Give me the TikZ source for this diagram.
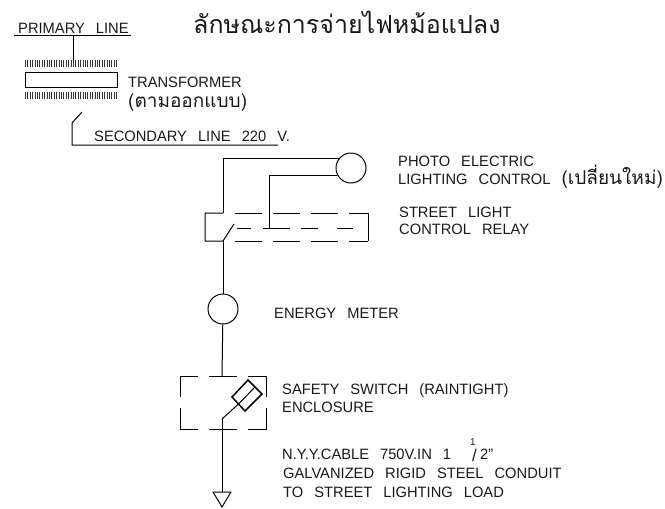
\documentclass[tikz,border=0pt]{standalone}
\usepackage{fontspec}
\setmainfont{Liberation Sans}[FakeStretch=0.98,WordSpace=2.7]
\newfontfamily\thaifont[Script=Thai]{Loma}
\tikzset{
 lbl/.style={inner sep=0pt,anchor=base west,font=\fontsize{15}{17}\selectfont,text=black!90},
 thailbl/.style={lbl,font=\fontsize{19}{21}\selectfont\thaifont},
 wire/.style={line width=1pt,black},
 hatch/.style={line width=7pt,black!80,dash pattern=on 1pt off 1.4pt},
 lamp/.style={circle,draw,line width=1pt,minimum size=30pt,inner sep=0pt}
}
\begin{document}
\begin{tikzpicture}[x=1pt,y=-1pt]
\useasboundingbox (0,0) rectangle (665,509);
% title
\node[lbl,font=\fontsize{25}{28}\selectfont\thaifont] (title) at (193,33) {ลักษณะการจ่ายไฟหม้อแปลง};
% primary
\node[lbl] (prim) at (18,33) {PRIMARY LINE};
\coordinate (pl) at (14,35); \coordinate (pr) at (131,35); \coordinate (pm) at (73,35);
\draw[wire] (pl) -- (pr);
\coordinate (h1a) at (25,63.5); \coordinate (h1b) at (117,63.5);
\coordinate (h2a) at (25,95.5); \coordinate (h2b) at (117,95.5);
\node[draw,line width=1pt,minimum width=92pt,minimum height=15pt,inner sep=0pt] (tr) at (71,79.5) {};
\coordinate (pd) at (73,60);
\draw[wire] (pm) -- (pd);
\draw[hatch] (h1a) -- (h1b);
\draw[hatch] (h2a) -- (h2b);
\node[lbl] (trt) at (128,87) {TRANSFORMER};
\node[thailbl] (trt2) at (128,107) {(ตามออกแบบ)};
% secondary
\node[lbl] (sec) at (94,141) {SECONDARY LINE 220 V.};
\coordinate (s1) at (82,112); \coordinate (s2) at (72,123); \coordinate (s3) at (72,145); \coordinate (s4) at (278,145);
\draw[wire] (s1) -- (s2) -- (s3) -- (s4);
% photo cell
\node[lamp] (photo) at (351,168) {};
\node[lbl] (pt1) at (398,166) {PHOTO ELECTRIC};
\node[lbl] (pt2) at (398,184) {LIGHTING CONTROL {\fontsize{19}{21}\selectfont\thaifont(เปลี่ยนใหม่)}};
\coordinate (a1) at (223,159); \coordinate (a2) at (223,213);
\coordinate (b1) at (269,175); \coordinate (b2) at (269,228);
\draw[wire] (photo.143) -- (photo.143 -| a1) -- (a2);
\draw[wire] (photo.208) -- (photo.208 -| b1) -- (b2);
% relay
\coordinate (rtl) at (205,213); \coordinate (rbl) at (205,241); \coordinate (rtr) at (368,213); \coordinate (rbr) at (368,241);
\coordinate (sw0) at (223,241); \coordinate (sw1) at (234,224);
\coordinate (rt0) at (235,213); \coordinate (rb0) at (235,241);
\coordinate (rm0) at (237,228); \coordinate (rm1) at (353,228);
\draw[wire] (a2) -- (rtl) -- (rbl) -- (sw0) -- (sw1);
\draw[wire,dash pattern=on 27pt off 11pt] (rt0) -- (rtr);
\draw[wire,dash pattern=on 27pt off 11pt] (rb0) -- (rbr);
\draw[wire] (rtr) -- (rbr);
\draw[wire,dash pattern=on 14pt off 12pt on 27pt off 11pt on 17pt off 19pt on 16pt off 100pt] (rm0) -- (rm1);
\node[lbl] (rt1) at (399,217) {STREET LIGHT};
\node[lbl] (rt2) at (399,234) {CONTROL RELAY};
% meter
\node[lamp] (meter) at (223,309) {};
\draw[wire] (sw0) -- (meter);
\node[lbl] (mt) at (274,318) {ENERGY METER};
% enclosure
\coordinate (et) at (222,376);
\draw[wire] (meter) -- (et);
\draw[wire] (180,397) -- (180,376) -- (198,376);
\draw[wire] (209,376) -- (237,376);
\draw[wire] (248,376) -- (266,376) -- (266,397);
\draw[wire] (180,408) -- (180,429) -- (198,429);
\draw[wire] (209,429) -- (237,429);
\draw[wire] (248,429) -- (266,429) -- (266,408);
% fuse switch
\coordinate (f0) at (222,419); \coordinate (f1) at (238.5,404);
\draw[wire] (f0) -- (f1);
\draw[line width=1.5pt] (248,380) -- (262,394) -- (245,411) -- (232,397) -- cycle;
\draw[wire] (255,387) -- (f1);
\node[lbl] (st1) at (282,394) {SAFETY SWITCH (RAINTIGHT)};
\node[lbl] (st2) at (282,412) {ENCLOSURE};
% cable
\coordinate (c1) at (222,492); \coordinate (c2) at (213,492); \coordinate (c3) at (231,492); \coordinate (c4) at (222,507);
\draw[wire] (f0) -- (c1);
\draw[wire] (c2) -- (c3) -- (c4) -- cycle;
\node[lbl] (ct1) at (282,459) {N.Y.Y.CABLE 750V.IN 1};
\node[lbl,font=\fontsize{10}{11}\selectfont] (ct1a) at (470,445) {1};
\node[lbl,font=\fontsize{17}{18}\selectfont] (ct1b) at (472,461) {/};
\node[lbl] (ct1c) at (480,459) {2"};
\node[lbl] (ct2) at (283,478) {GALVANIZED RIGID STEEL CONDUIT};
\node[lbl] (ct3) at (283,497) {TO STREET LIGHTING LOAD};
\end{tikzpicture}
\end{document}
